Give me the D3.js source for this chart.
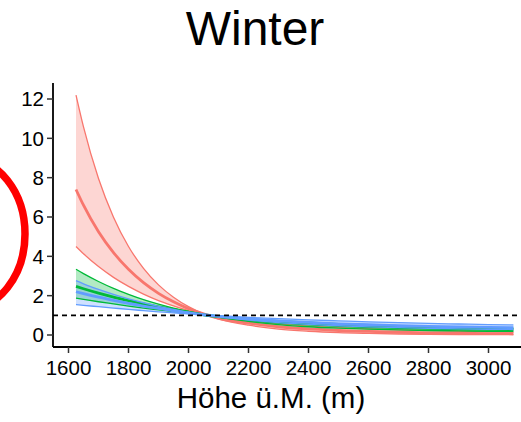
<!DOCTYPE html>
<html><head><meta charset="utf-8">
<script src="https://cdn.jsdelivr.net/npm/d3@7"></script>
<style>body{margin:0;background:#fff}svg{display:block}text{font-family:"Liberation Sans",Arial,sans-serif;fill:#000}</style>
</head><body><svg id="c" width="521" height="422"></svg>
<script>
const heights = [1625,1650,1700,1750,1800,1850,1900,1950,2000,2050,2100,2200,2300,2400,2500,2600,2700,2800,2900,3000,3083];
const redUpper  = [12.2,10.58,7.96,5.99,4.5,3.39,2.55,1.92,1.44,1.08,0.82,0.5,0.3,0.19,0.12,0.08,0.05,0.035,0.025,0.018,0.014];
const redMean   = [7.4,6.6,5.25,4.19,3.34,2.66,2.12,1.69,1.34,1.07,0.85,0.6,0.42,0.31,0.23,0.18,0.14,0.11,0.09,0.075,0.065];
const redLower  = [4.5,4.13,3.48,2.93,2.47,2.08,1.75,1.48,1.24,1.05,0.88,0.7,0.55,0.45,0.37,0.31,0.26,0.22,0.19,0.16,0.14];
const greenUpper= [3.34,3.12,2.72,2.37,2.07,1.8,1.57,1.37,1.2,1.04,0.91,0.69,0.53,0.42,0.35,0.3,0.26,0.23,0.21,0.19,0.18];
const greenMean = [2.47,2.35,2.13,1.93,1.75,1.58,1.43,1.3,1.16,1.03,0.93,0.77,0.64,0.55,0.48,0.42,0.38,0.34,0.31,0.29,0.27];
const greenLower= [1.87,1.81,1.69,1.58,1.47,1.37,1.28,1.19,1.1,1.02,0.95,0.83,0.73,0.65,0.58,0.52,0.47,0.43,0.4,0.37,0.35];
const blueUpper = [2.76,2.6,2.32,2.07,1.84,1.64,1.46,1.3,1.16,1.03,0.93,0.76,0.63,0.54,0.47,0.41,0.37,0.34,0.31,0.29,0.28];
const blueMean  = [2.2,2.1,1.92,1.76,1.61,1.47,1.35,1.23,1.12,1.03,0.95,0.82,0.72,0.64,0.57,0.52,0.48,0.44,0.41,0.39,0.37];
const blueLower = [1.55,1.51,1.44,1.37,1.3,1.24,1.18,1.12,1.07,1.02,0.98,0.9,0.83,0.77,0.72,0.67,0.63,0.59,0.56,0.53,0.51];
const xTicks = [1600,1800,2000,2200,2400,2600,2800,3000];
const yTicks = [0,2,4,6,8,10,12];
const refValue = 1;
const titleText = "Winter";
const xLabel = "Höhe ü.M. (m)";

const series = [
  {name:"red", color:"#F8766D", upper:redUpper, mean:redMean, lower:redLower},
  {name:"green", color:"#00BA38", upper:greenUpper, mean:greenMean, lower:greenLower},
  {name:"blue", color:"#619CFF", upper:blueUpper, mean:blueMean, lower:blueLower}
];

const svg = d3.select("#c");
const x = d3.scaleLinear().domain([1600,3000]).range([68.5,488.5]);
const y = d3.scaleLinear().domain([0,12]).range([335,99]);
const pLeft = 53, pBottom = 347, pTop = 83, pRight = 521;

// annotation ellipse
svg.append("ellipse").attr("cx",-35).attr("cy",234).attr("rx",60).attr("ry",76)
  .attr("fill","none").attr("stroke","#FF0000").attr("stroke-width",7.5);

svg.append("defs").append("clipPath").attr("id","clip").append("rect")
  .attr("x",pLeft).attr("y",pTop).attr("width",pRight-pLeft).attr("height",pBottom-pTop);
const g = svg.append("g").attr("clip-path","url(#clip)");

const curve = d3.curveMonotoneX;
series.forEach(s=>{
  const area = d3.area().x((d,i)=>x(heights[i])).y0((d,i)=>y(s.lower[i])).y1((d,i)=>y(s.upper[i])).curve(curve);
  g.append("path").attr("d",area(heights)).attr("fill",s.color).attr("fill-opacity",0.3).attr("stroke","none");
});
series.forEach(s=>{
  const mk = arr => d3.line().x((d,i)=>x(heights[i])).y((d,i)=>y(arr[i])).curve(curve)(heights);
  g.append("path").attr("d",mk(s.upper)).attr("fill","none").attr("stroke",s.color).attr("stroke-width",1.3);
  g.append("path").attr("d",mk(s.lower)).attr("fill","none").attr("stroke",s.color).attr("stroke-width",1.3);
  g.append("path").attr("d",mk(s.mean)).attr("fill","none").attr("stroke",s.color).attr("stroke-width",2.8);
});

// reference line
g.append("line").attr("x1",pLeft).attr("x2",pRight).attr("y1",y(refValue)).attr("y2",y(refValue))
  .attr("stroke","#000").attr("stroke-width",1.6).attr("stroke-dasharray","5,4");

// axes
const xAxis = svg.append("g").attr("transform",`translate(0,${pBottom})`);
xAxis.append("line").attr("x1",pLeft).attr("x2",pRight).attr("stroke","#000").attr("stroke-width",1.8);
xAxis.selectAll("g.t").data(xTicks).join("g").attr("class","t").attr("transform",d=>`translate(${x(d)},0)`)
  .call(s=>{
    s.append("line").attr("y1",0).attr("y2",6).attr("stroke","#333").attr("stroke-width",1.5);
    s.append("text").attr("y",28).attr("text-anchor","middle").attr("font-size",20.5).text(d=>d);
  });
const yAxis = svg.append("g").attr("transform",`translate(${pLeft},0)`);
yAxis.append("line").attr("y1",pTop).attr("y2",pBottom).attr("stroke","#000").attr("stroke-width",1.8);
yAxis.selectAll("g.t").data(yTicks).join("g").attr("class","t").attr("transform",d=>`translate(0,${y(d)})`)
  .call(s=>{
    s.append("line").attr("x1",-6).attr("x2",0).attr("stroke","#333").attr("stroke-width",1.5);
    s.append("text").attr("x",-9).attr("dy","0.36em").attr("text-anchor","end").attr("font-size",20.5).text(d=>d);
  });

svg.append("text").attr("x",255).attr("y",45).attr("text-anchor","middle").attr("font-size",48).text(titleText);
svg.append("text").attr("x",271).attr("y",408).attr("text-anchor","middle").attr("font-size",29.5).text(xLabel);
</script></body></html>
